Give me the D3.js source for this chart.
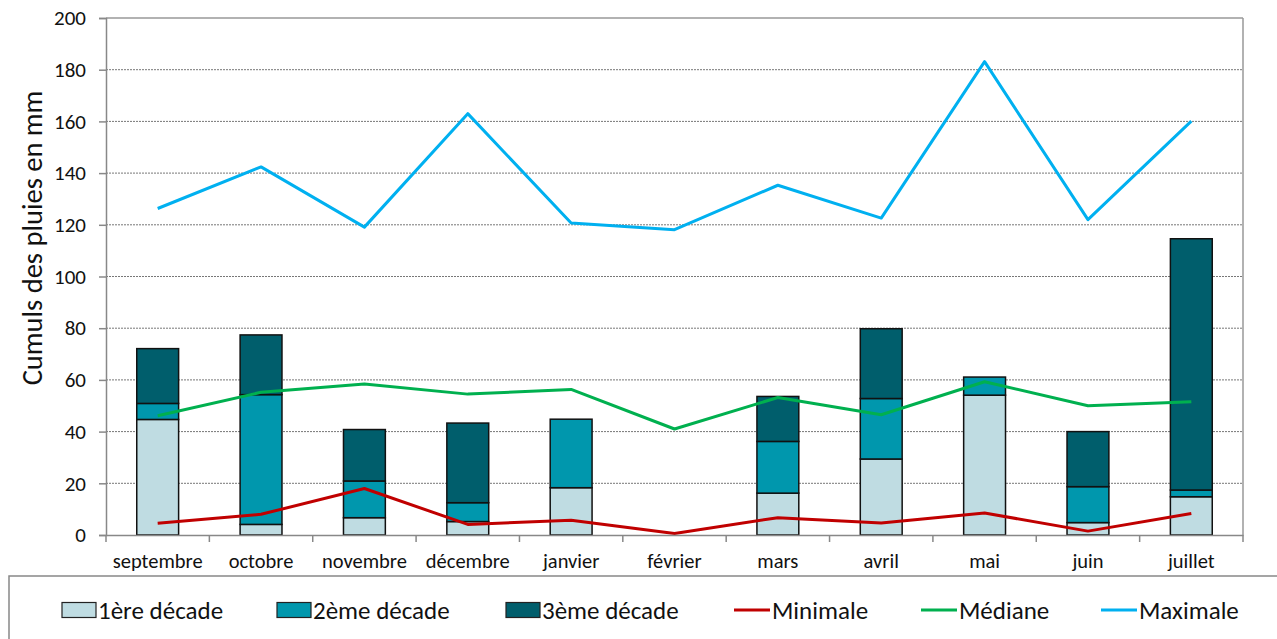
<!DOCTYPE html>
<html><head><meta charset="utf-8">
<script src="https://cdn.jsdelivr.net/npm/d3@7"></script>
<style>body{margin:0;background:#fff;} svg{display:block;}</style>
</head><body>
<svg id="c" width="1277" height="639"></svg>
<script>
const months = ["septembre","octobre","novembre","décembre","janvier","février","mars","avril","mai","juin","juillet"];
const decade1 = [44.7, 4.1, 6.7, 5.2, 18.3, 0, 16.2, 29.4, 54.1, 4.8, 14.8];
const decade2 = [6.2, 50.2, 14.2, 7.3, 26.5, 0, 20.0, 23.4, 7.0, 13.9, 2.6];
const decade3 = [21.2, 23.1, 19.9, 30.8, 0, 0, 17.4, 27.0, 0, 21.3, 97.2];
const minimale = [4.5, 8.0, 18.0, 4.1, 5.7, 0.6, 6.7, 4.6, 8.5, 1.5, 8.3];
const mediane = [46.1, 55.2, 58.4, 54.5, 56.3, 41.0, 53.2, 46.5, 59.3, 50.0, 51.5];
const maximale = [126.3, 142.4, 119.1, 163.0, 120.7, 118.1, 135.3, 122.6, 183.1, 122.0, 160.1];
const yTicks = [0,20,40,60,80,100,120,140,160,180,200];
const barNames = ["1ère décade","2ème décade","3ème décade"];
const lineNames = ["Minimale","Médiane","Maximale"];

const FONT = "Carlito, Lato, sans-serif";
const barColors = ["#bfdce2","#0097ad","#005e6c"];
const lineColors = ["#c00000","#00b04f","#00b0f0"];

const svg = d3.select("#c");
const L = 106, R = 1243, T = 18, B = 535;
const x = d3.scaleBand().domain(months).range([L, R]).padding(0);
const y = d3.scaleLinear().domain([0, 200]).range([B, T]);

// grid
svg.append("g").selectAll("line").data(yTicks.filter(v => v > 0 && v < 200)).join("line")
  .attr("x1", L).attr("x2", R).attr("y1", d => y(d)).attr("y2", d => y(d))
  .attr("stroke", "#777").attr("stroke-width", 1).attr("stroke-dasharray", "2,1");
// plot border top/right
svg.append("line").attr("x1", L).attr("x2", R).attr("y1", y(200)).attr("y2", y(200)).attr("stroke", "#999").attr("stroke-width", 1.5);
svg.append("line").attr("x1", R).attr("x2", R).attr("y1", y(200)).attr("y2", y(0)).attr("stroke", "#999").attr("stroke-width", 1.5);

// bars
const stackData = months.map((m, i) => ({m, a: decade1[i], b: decade2[i], c: decade3[i]}));
const series = d3.stack().keys(["a","b","c"])(stackData);
const bw = x.bandwidth() * 0.405;
series.forEach((s, k) => {
  svg.append("g").selectAll("rect").data(s.filter(d => d[1] - d[0] > 0)).join("rect")
    .attr("x", d => x(d.data.m) + (x.bandwidth() - bw) / 2)
    .attr("width", bw)
    .attr("y", d => y(d[1]))
    .attr("height", d => y(d[0]) - y(d[1]))
    .attr("fill", barColors[k]).attr("stroke", "#111").attr("stroke-width", 1.5);
});

// lines
const lineGen = d3.line().x((d, i) => x(months[i]) + x.bandwidth() / 2).y(d => y(d));
[minimale, mediane, maximale].forEach((arr, k) => {
  svg.append("path").datum(arr).attr("d", lineGen).attr("fill", "none")
    .attr("stroke", lineColors[k]).attr("stroke-width", 3).attr("stroke-linejoin", "round");
});

// axes
const yAxis = d3.axisLeft(y).tickValues(yTicks).tickSize(7).tickPadding(13).tickFormat(d3.format("d"));
const gy = svg.append("g").attr("transform", `translate(${L},0)`).call(yAxis);
gy.select(".domain").attr("stroke", "#888").attr("stroke-width", 1.5);
gy.selectAll(".tick line").attr("stroke", "#888").attr("stroke-width", 1.5);
gy.selectAll("text").attr("font-family", FONT).attr("font-size", 21).attr("fill", "#111");

const xAxis = d3.axisBottom(x).tickSize(0).tickPadding(18);
const gx = svg.append("g").attr("transform", `translate(0,${B})`).call(xAxis);
gx.select(".domain").attr("stroke", "#888").attr("stroke-width", 1.5);
gx.selectAll("text").attr("font-family", FONT).attr("font-size", 20.5).attr("fill", "#111");
// boundary ticks
gx.append("g").selectAll("line").data(months.map(m => x(m)).concat([R])).join("line")
  .attr("x1", d => d).attr("x2", d => d).attr("y1", 0).attr("y2", 7)
  .attr("stroke", "#888").attr("stroke-width", 1.5);

// y title
svg.append("text").attr("transform", `translate(42,238) rotate(-90)`)
  .attr("text-anchor", "middle").attr("font-family", FONT).attr("font-size", 28.5).attr("fill", "#111")
  .text("Cumuls des pluies en mm");

// legend
svg.append("rect").attr("x", 9).attr("y", 576).attr("width", 1290).attr("height", 80)
  .attr("fill", "#fff").attr("stroke", "#888").attr("stroke-width", 1.5);
const legX = [62, 277, 506];
barNames.forEach((n, k) => {
  svg.append("rect").attr("x", legX[k]).attr("y", 602.5).attr("width", 34).attr("height", 15)
    .attr("fill", barColors[k]).attr("stroke", "#222").attr("stroke-width", 1.2);
  svg.append("text").attr("x", legX[k] + 36).attr("y", 619).attr("font-family", FONT).attr("font-size", 25)
    .attr("fill", "#111").text(n);
});
const legLX = [734, 921, 1101];
lineNames.forEach((n, k) => {
  svg.append("line").attr("x1", legLX[k]).attr("x2", legLX[k] + 36).attr("y1", 610).attr("y2", 610)
    .attr("stroke", lineColors[k]).attr("stroke-width", 3);
  svg.append("text").attr("x", legLX[k] + 38).attr("y", 619).attr("font-family", FONT).attr("font-size", 25)
    .attr("fill", "#111").text(n);
});
</script>
</body></html>
